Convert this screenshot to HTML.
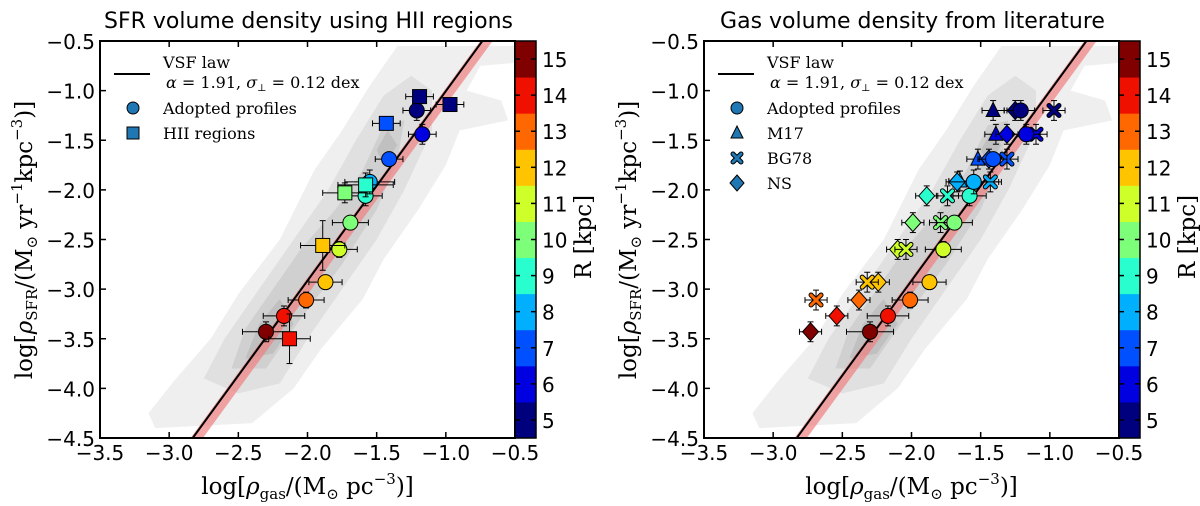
<!DOCTYPE html>
<html><head><meta charset="utf-8"><style>
html,body{margin:0;padding:0;background:#fff;}
svg{display:block;}
.tk{font-family:"DejaVu Sans","Liberation Sans",sans-serif;font-size:20px;fill:#000;}
.ttl{font-family:"DejaVu Sans","Liberation Sans",sans-serif;font-size:22px;fill:#000;}
.lab{font-family:"DejaVu Serif","Liberation Serif",serif;font-size:23px;fill:#000;}
.leg{font-family:"DejaVu Serif","Liberation Serif",serif;font-size:16px;fill:#000;}
</style></head><body>
<svg id="fig" width="1200" height="506" viewBox="0 0 1200 506" xmlns="http://www.w3.org/2000/svg"></svg>
<script>
// ---- data ----
const xTicks = [-3.5,-3.0,-2.5,-2.0,-1.5,-1.0,-0.5];
const yTicks = [-4.5,-4.0,-3.5,-3.0,-2.5,-2.0,-1.5,-1.0,-0.5];
const cbTicks = [5,6,7,8,9,10,11,12,13,14,15];
const cbColors = ['#00007f','#0000e0','#0050ff','#00b0ff','#29ffce','#7dff7a','#ceff29','#ffc400','#ff6800','#f01000','#800000'];
const lawSlope = 1.91;
const lawIntercept = 0.905;
// adopted profiles (both panels)
const profX = [-2.30,-2.17,-2.01,-1.87,-1.77,-1.69,-1.58,-1.55,-1.41,-1.17,-1.21];
const profY = [-3.43,-3.27,-3.11,-2.93,-2.60,-2.33,-2.06,-1.92,-1.69,-1.44,-1.20];
const profR = [15,14,13,12,11,10,9,8,7,6,5];
const profXerr = [0.17,0.15,0.13,0.12,0.13,0.13,0.12,0.18,0.10,0.10,0.10];
const profYerr = [0.10,0.10,0.08,0.07,0.08,0.07,0.10,0.12,0.07,0.10,0.10];
// HII regions (left panel)
const hiiX = [-2.13,-1.89,-1.73,-1.58,-1.43,-1.19,-0.97];
const hiiY = [-3.50,-2.56,-2.03,-1.95,-1.33,-1.06,-1.14];
const hiiR = [14,12,10,9,7,5,5];
const hiiXerr = [0.15,0.16,0.16,0.20,0.10,0.10,0.10];
const hiiYerr = [0.25,0.25,0.10,0.12,0.05,0.05,0.05];
// M17 (right)
const m17X = [-1.41,-1.39,-1.52,-1.65];
const m17Y = [-1.20,-1.44,-1.69,-1.91];
const m17R = [5,6,7,8];
// BG78 (right)
const bgX = [-2.69,-2.32,-2.04,-1.79,-1.74,-1.43,-1.31,-1.10,-0.97];
const bgY = [-3.11,-2.93,-2.60,-2.33,-2.06,-1.92,-1.69,-1.44,-1.20];
const bgR = [13,12,11,10,9,8,7,6,5];
// NS (right)
const nsX = [-2.73,-2.54,-2.38,-2.24,-2.10,-1.99,-1.89,-1.67,-1.44,-1.31,-1.25];
const nsY = [-3.43,-3.27,-3.11,-2.93,-2.60,-2.33,-2.06,-1.92,-1.69,-1.44,-1.20];
const nsR = [15,14,13,12,11,10,9,8,7,6,5];
// density contours (data coords)
const cont1 = [[-3.15,-4.25],[-2.95,-3.9],[-2.7,-3.5],[-2.5,-3.05],[-2.2,-2.5],[-1.95,-1.8],[-1.75,-1.4],[-1.55,-0.95],[-1.35,-0.55],[-0.5,-0.55],[-0.5,-0.72],[-0.75,-0.75],[-0.85,-1.0],[-0.6,-1.1],[-0.55,-1.3],[-0.9,-1.4],[-1.0,-1.75],[-1.2,-2.2],[-1.45,-2.7],[-1.6,-3.1],[-1.9,-3.6],[-2.1,-4.0],[-2.4,-4.35],[-3.1,-4.4]];
const cont2 = [[-2.75,-3.9],[-2.6,-3.5],[-2.35,-3.0],[-2.1,-2.5],[-1.85,-2.0],[-1.65,-1.5],[-1.45,-1.05],[-1.25,-0.85],[-1.1,-1.0],[-1.1,-1.4],[-1.3,-2.0],[-1.5,-2.5],[-1.75,-3.0],[-2.0,-3.5],[-2.2,-3.95],[-2.5,-4.05]];
const cont3 = [[-2.55,-3.8],[-2.45,-3.4],[-2.25,-3.0],[-2.05,-2.6],[-1.8,-2.2],[-1.6,-1.8],[-1.45,-1.35],[-1.3,-1.3],[-1.35,-1.7],[-1.5,-2.2],[-1.75,-2.75],[-2.05,-3.3],[-2.3,-3.8]];
const cont4a = [[-2.45,-3.7],[-2.35,-3.35],[-2.2,-3.1],[-2.1,-3.35],[-2.25,-3.65]];
const cont4b = [[-1.5,-1.6],[-1.42,-1.4],[-1.35,-1.55],[-1.45,-1.75]];

const NS='http://www.w3.org/2000/svg';
const svg=document.getElementById('fig');
function mk(tag,attrs,parent){const e=document.createElementNS(NS,tag);for(const k in attrs)e.setAttribute(k,attrs[k]);(parent||svg).appendChild(e);return e;}
function colorFor(r){return cbColors[Math.round(r)-5];}
function fmt(v){return (v<0?'\u2212':'')+Math.abs(v).toFixed(1);}

function panel(L, title, kind){
  const R=L+415, T=41, B=438;
  const sx=v=>L+(v+3.5)/3*(R-L);
  const sy=v=>B-(v+4.5)/4*(B-T);
  const g=mk('g',{});
  
  
  const cp='clip'+kind;
  const cpE=mk('clipPath',{id:cp},g); mk('rect',{x:L,y:T,width:R-L,height:B-T},cpE);
  const inner=mk('g',{'clip-path':'url(#'+cp+')'},g);
  [[cont1,'#efefef'],[cont2,'#e0e0e0'],[cont3,'#d0d0d0'],[cont4a,'#c0c0c0'],[cont4b,'#c0c0c0']].forEach(([c,col])=>{
    const p=mk('polygon',{points:c.map(q=>sx(q[0])+','+sy(q[1])).join(' '),fill:col},inner);
    
    
  });
  const x0=-3.2,x1=-0.5;
  const band=mk('line',{x1:sx(x0)+4,y1:sy(lawSlope*x0+lawIntercept),x2:sx(x1)+4,y2:sy(lawSlope*x1+lawIntercept),stroke:'#f08080','stroke-opacity':0.7,'stroke-width':10},inner);
  
  
  const ln=mk('line',{x1:sx(x0),y1:sy(lawSlope*x0+lawIntercept),x2:sx(x1),y2:sy(lawSlope*x1+lawIntercept),stroke:'#000','stroke-width':2},inner);
  
  

  function errbar(x,y,xe,ye){
    const c='#000';
    if(xe){mk('line',{x1:sx(x-xe),y1:sy(y),x2:sx(x+xe),y2:sy(y),stroke:c,'stroke-width':1},inner);
      mk('line',{x1:sx(x-xe),y1:sy(y)-3,x2:sx(x-xe),y2:sy(y)+3,stroke:c,'stroke-width':1},inner);
      mk('line',{x1:sx(x+xe),y1:sy(y)-3,x2:sx(x+xe),y2:sy(y)+3,stroke:c,'stroke-width':1},inner);}
    if(ye){mk('line',{x1:sx(x),y1:sy(y-ye),x2:sx(x),y2:sy(y+ye),stroke:c,'stroke-width':1},inner);
      mk('line',{x1:sx(x)-3,y1:sy(y-ye),x2:sx(x)+3,y2:sy(y-ye),stroke:c,'stroke-width':1},inner);
      mk('line',{x1:sx(x)-3,y1:sy(y+ye),x2:sx(x)+3,y2:sy(y+ye),stroke:c,'stroke-width':1},inner);}
  }
  function marker(shape,cx,cy,fill,par,s){
    s=s||7; let e;
    if(shape==='circle') e=mk('circle',{cx,cy,r:s,fill,stroke:'#000','stroke-width':1},par);
    else if(shape==='square') e=mk('rect',{x:cx-s,y:cy-s,width:2*s,height:2*s,fill,stroke:'#000','stroke-width':1},par);
    else if(shape==='tri') e=mk('polygon',{points:`${cx},${cy-s-1} ${cx+s},${cy+s-1} ${cx-s},${cy+s-1}`,fill,stroke:'#000','stroke-width':1},par);
    else if(shape==='diamond') e=mk('polygon',{points:`${cx},${cy-s-2} ${cx+s+1},${cy} ${cx},${cy+s+2} ${cx-s-1},${cy}`,fill,stroke:'#000','stroke-width':1},par);
    else { const q=s-2; e=mk('g',{},par);
      mk('path',{d:`M${cx-q},${cy-q}L${cx+q},${cy+q}M${cx+q},${cy-q}L${cx-q},${cy+q}`,stroke:'#000','stroke-width':5,'stroke-linecap':'round'},e);
      mk('path',{d:`M${cx-q},${cy-q}L${cx+q},${cy+q}M${cx+q},${cy-q}L${cx-q},${cy+q}`,stroke:fill,'stroke-width':3,'stroke-linecap':'round'},e);}
    return e;
  }
  function series(xs,ys,rs,shape,xe,ye,name){
    xs.forEach((x,i)=>{
      errbar(x,ys[i],xe?xe[i]:0.08,ye?ye[i]:0.1);
      const m=marker(shape,sx(x),sy(ys[i]),colorFor(rs[i]),inner,shape==='circle'?7.5:7);
      
      
    });
  }
  if(kind==='left'){
    series(profX,profY,profR,'circle',profXerr,profYerr,'adopted-profile');
    series(hiiX,hiiY,hiiR,'square',hiiXerr,hiiYerr,'hii-region');
  } else {
    series(m17X,m17Y,m17R,'tri',null,null,'m17');
    series(nsX,nsY,nsR,'diamond',null,null,'ns');
    series(bgX,bgY,bgR,'x',null,null,'bg78');
    series(profX,profY,profR,'circle',profXerr,profYerr,'adopted-profile');
  }
  const fr=mk('rect',{x:L,y:T,width:R-L,height:B-T,fill:'none',stroke:'#000','stroke-width':2},g);
  
  
  xTicks.forEach(v=>{
    mk('line',{x1:sx(v),y1:B,x2:sx(v),y2:B-6,stroke:'#000','stroke-width':1.5},g);
    mk('line',{x1:sx(v),y1:T,x2:sx(v),y2:T+6,stroke:'#000','stroke-width':1.5},g);
    const t=mk('text',{x:sx(v),y:B+22,'text-anchor':'middle',class:'tk'},g); t.textContent=fmt(v);
    
    
  });
  yTicks.forEach(v=>{
    mk('line',{x1:L,y1:sy(v),x2:L+6,y2:sy(v),stroke:'#000','stroke-width':1.5},g);
    const t=mk('text',{x:L-5,y:sy(v)+8,'text-anchor':'end',class:'tk'},g); t.textContent=fmt(v);
    
    
  });
  const CL=R, CR=R+21, bh=(B-T)/cbColors.length;
  cbColors.forEach((c,i)=>{
    const r=mk('rect',{x:CL,y:B-(i+1)*bh,width:CR-CL,height:bh+0.5,fill:c},g);
    
    
  });
  mk('rect',{x:CL,y:T,width:CR-CL,height:B-T,fill:'none',stroke:'#000','stroke-width':1.5},g);
  cbTicks.forEach((v,i)=>{
    const y=B-(i+0.5)*bh;
    mk('line',{x1:CR,y1:y,x2:CR-5,y2:y,stroke:'#000','stroke-width':1.5},g);
    mk('line',{x1:CL,y1:y,x2:CL+5,y2:y,stroke:'#000','stroke-width':1.5},g);
    const t=mk('text',{x:CR+6,y:y+8,class:'tk'},g); t.textContent=v;
    
    
  });
  const cbl=mk('text',{x:0,y:0,transform:`translate(${CR+55},237) rotate(-90)`,'text-anchor':'middle',class:'lab'},g);
  cbl.textContent='R [kpc]';
  
  
  const tt=mk('text',{x:(L+R)/2+1,y:28,'text-anchor':'middle',class:'ttl'},g); tt.textContent=title;
  
  
  const xl=mk('text',{x:(L+R)/2,y:494,'text-anchor':'middle',class:'lab'},g);
  xl.innerHTML='log[<tspan font-style="italic">ρ</tspan><tspan font-size="15" dy="5">gas</tspan><tspan dy="-5">/(M</tspan><tspan font-size="15" dy="5">⊙</tspan><tspan dy="-5"> pc</tspan><tspan font-size="15" dy="-10">−3</tspan><tspan dy="10">)]</tspan>';
  
  
  const yl=mk('text',{x:0,y:0,transform:`translate(${L-68},240) rotate(-90)`,'text-anchor':'middle',class:'lab'},g);
  yl.innerHTML='log[<tspan font-style="italic">ρ</tspan><tspan font-size="15" dy="5">SFR</tspan><tspan dy="-5">/(M</tspan><tspan font-size="15" dy="5">⊙</tspan><tspan dy="-5"> yr</tspan><tspan font-size="15" dy="-10">−1</tspan><tspan dy="10">kpc</tspan><tspan font-size="15" dy="-10">−3</tspan><tspan dy="10">)]</tspan>';
  
  
  const lg=mk('g',{},g);
  
  
  mk('line',{x1:L+14,y1:74,x2:L+50,y2:74,stroke:'#000','stroke-width':2},lg);
  const lt1=mk('text',{x:L+63,y:68,class:'leg'},lg); lt1.textContent='VSF law';
  const lt2=mk('text',{x:L+66,y:88,class:'leg','font-size':'14'},lg);
  lt2.innerHTML='<tspan font-style="italic">α</tspan> = 1.91, <tspan font-style="italic">σ</tspan><tspan font-size="10" dy="3">⊥</tspan><tspan dy="-3"> = 0.12 dex</tspan>';
  const entries = kind==='left' ? [['circle','Adopted profiles'],['square','HII regions']] :
    [['circle','Adopted profiles'],['tri','M17'],['x','BG78'],['diamond','NS']];
  entries.forEach((e,i)=>{
    const y=108+i*25;
    marker(e[0],L+33,y,'#1f77b4',lg,6);
    const t=mk('text',{x:L+63,y:y+6,class:'leg'},lg); t.textContent=e[1];
    
    
  });
}
panel(100,'SFR volume density using HII regions','left');
panel(704,'Gas volume density from literature','right');
</script>
</body></html>
